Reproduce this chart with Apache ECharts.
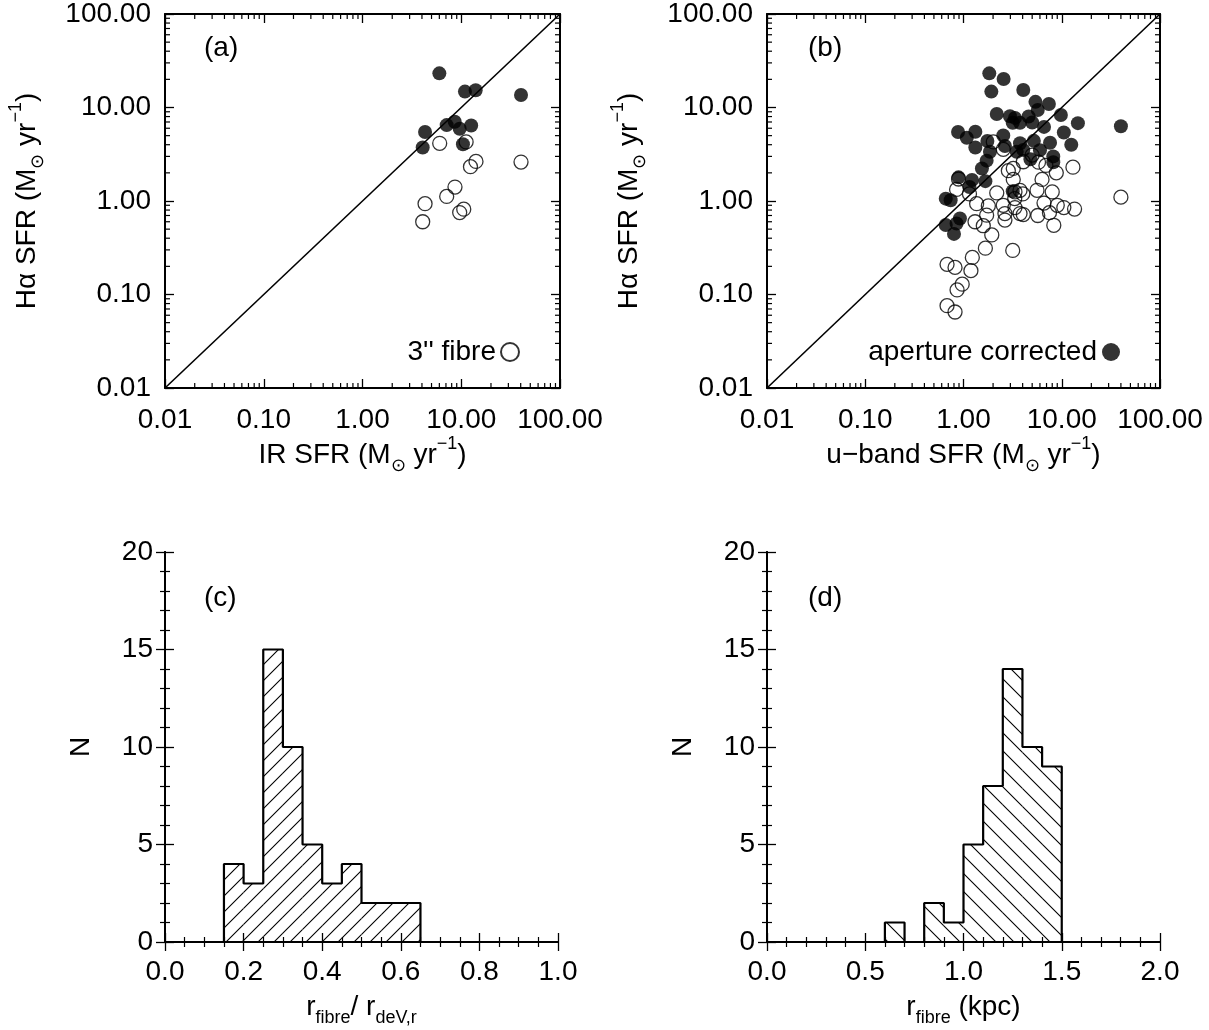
<!DOCTYPE html>
<html>
<head>
<meta charset="utf-8">
<script src="https://cdn.jsdelivr.net/npm/echarts@6/dist/echarts.min.js"></script>
<style>
  html, body { margin: 0; padding: 0; background: #fff; }
  #chart { width: 1209px; height: 1030px; }
</style>
</head>
<body>
<div id="chart"></div>
<script>
// (a) IR SFR vs Halpha SFR  [x, y]
const irCorrected = [
  [6.0, 23.2], [10.9, 14.8], [14.0, 15.3], [40.3, 13.6], [4.3, 5.47], [4.07, 3.73],
  [7.12, 6.48], [8.59, 7.03], [9.64, 5.92], [12.6, 6.42], [10.4, 4.04]
]
const irFibre = [
  [6.05, 4.14], [11.2, 4.28], [14.1, 2.65], [12.4, 2.33], [40.3, 2.61], [8.64, 1.41],
  [7.12, 1.12], [4.3, 0.936], [4.07, 0.60], [10.6, 0.817], [9.64, 0.752]
]

// (b) u-band SFR vs Halpha SFR  [x, y]
const uCorrected = [
  [1.83, 23.2], [2.56, 20.2], [1.92, 14.8], [4.06, 15.4], [2.18, 8.53], [2.97, 8.07],
  [3.34, 7.74], [3.76, 6.85], [3.17, 6.85], [0.88, 5.47], [1.08, 4.75], [1.32, 5.5],
  [2.54, 5.03], [1.75, 4.39], [1.32, 3.73], [2.64, 3.88], [3.76, 4.14], [4.06, 3.52],
  [3.48, 3.36], [1.86, 3.36], [1.72, 2.70], [1.54, 2.23], [0.89, 1.79], [1.22, 1.68],
  [1.67, 1.63], [1.15, 1.41], [3.17, 1.27], [0.66, 1.06], [0.74, 1.02], [0.92, 0.65],
  [0.85, 0.575], [0.66, 0.553], [0.80, 0.445],
  [7.4, 10.9], [5.7, 9.4], [9.8, 8.3], [5.0, 6.9], [6.6, 6.2], [10.5, 5.4], [5.2, 4.4],
  [7.6, 4.2], [14.6, 6.8], [12.5, 4.0], [40, 6.3], [8.2, 3.0], [6.0, 3.5], [4.6, 8.0],
  [5.4, 11.5], [4.8, 2.8], [8.2, 2.6]
]
const uFibre = [
  [2.01, 4.28], [2.54, 3.57], [4.06, 2.63], [3.21, 2.23], [2.86, 2.11], [3.21, 1.70],
  [0.89, 1.72], [0.85, 1.33], [1.15, 1.19], [2.18, 1.22], [3.34, 1.25], [3.76, 1.30],
  [4.01, 1.19], [3.32, 1.06], [1.36, 0.936], [1.79, 0.885], [1.72, 0.706], [2.54, 0.90],
  [2.64, 0.734], [2.64, 0.625], [3.34, 0.85], [3.76, 0.734], [4.06, 0.716], [1.31, 0.60],
  [1.59, 0.544], [1.94, 0.434], [1.67, 0.313], [1.23, 0.249], [3.17, 0.296],
  [0.68, 0.21], [0.82, 0.195], [0.97, 0.129], [0.86, 0.112], [1.19, 0.18], [0.68, 0.076],
  [0.82, 0.065],
  [5.0, 3.1], [5.8, 2.6], [6.9, 2.4], [8.8, 2.0], [13, 2.3], [6.3, 1.7], [5.6, 1.3],
  [8.0, 1.25], [6.6, 0.95], [10.5, 0.85], [13.5, 0.82], [8.3, 0.55], [40, 1.1], [9, 0.9],
  [7.5, 0.75], [5.7, 0.7]
]

// (c) r_fibre / r_deV,r histogram: lower bin edges and counts
const ratioEdges = [0.10, 0.15, 0.20, 0.25, 0.30, 0.35, 0.40, 0.45, 0.50, 0.55, 0.60, 0.65]
const ratioCounts = [0, 4, 3, 15, 10, 5, 3, 4, 2, 2, 2, 0]

// (d) r_fibre (kpc) histogram
const kpcEdges = [0.5, 0.6, 0.7, 0.8, 0.9, 1.0, 1.1, 1.2, 1.3, 1.4, 1.5]
const kpcCounts = [0, 1, 0, 2, 1, 5, 8, 14, 10, 9, 0]

const panelLabels = ['(a)', '(b)', '(c)', '(d)']

const FONT = 'Liberation Sans'
const FS = 28
const LOG_MIN = 0.01
const LOG_MAX = 100

const chart = echarts.init(document.getElementById('chart'), null, { renderer: 'canvas' })

function hatch(size, dir) {
  const c = document.createElement('canvas')
  c.width = c.height = size
  const ctx = c.getContext('2d')
  ctx.strokeStyle = '#000'
  ctx.lineWidth = 1.1
  ctx.beginPath()
  if (dir > 0) {
    ctx.moveTo(-2, size + 2); ctx.lineTo(size + 2, -2)
    ctx.moveTo(-2, 2); ctx.lineTo(2, -2)
    ctx.moveTo(size - 2, size + 2); ctx.lineTo(size + 2, size - 2)
  } else {
    ctx.moveTo(-2, -2); ctx.lineTo(size + 2, size + 2)
    ctx.moveTo(size - 2, -2); ctx.lineTo(size + 2, 2)
    ctx.moveTo(-2, size - 2); ctx.lineTo(2, size + 2)
  }
  ctx.stroke()
  return c
}

const rich = {
  sub: { fontFamily: FONT, fontSize: 18, verticalAlign: 'bottom', lineHeight: 18 },
  sup: { fontFamily: FONT, fontSize: 18, verticalAlign: 'top', lineHeight: 18 }
}
const nameStyle = { fontFamily: FONT, fontSize: FS, color: '#000', lineHeight: 40, rich: rich }
const labelStyle = { fontFamily: FONT, fontSize: FS, color: '#000' }
const frameLine = { show: true, lineStyle: { color: '#000', width: 2 } }

const grids = [
  { left: 165, top: 10, width: 395, height: 378 },
  { left: 767, top: 10, width: 393, height: 378 },
  { left: 165, top: 552, width: 393, height: 390 },
  { left: 767, top: 552, width: 393, height: 390 }
]

function logAxes(gi, xName, yName) {
  const base = {
    type: 'log', logBase: 10, min: LOG_MIN, max: LOG_MAX, gridIndex: gi,
    axisLine: frameLine, splitLine: { show: false },
    axisTick: { show: true, inside: true, length: 9, lineStyle: { color: '#000', width: 1.3 } }
  }
  const fmt = v => v.toFixed(2)
  return {
    x: [
      Object.assign({}, base, {
        position: 'bottom', name: xName, nameLocation: 'middle', nameGap: 45, nameTextStyle: nameStyle,
        axisLabel: Object.assign({ margin: 18, formatter: fmt, showMinLabel: true, showMaxLabel: true }, labelStyle)
      }),
      Object.assign({}, base, { position: 'top', axisLabel: { show: false } })
    ],
    y: [
      Object.assign({}, base, {
        position: 'left', name: yName, nameLocation: 'middle', nameRotate: 90, nameGap: 118, nameTextStyle: nameStyle,
        axisLabel: Object.assign({ margin: 14, formatter: fmt, showMinLabel: true, showMaxLabel: true }, labelStyle)
      }),
      Object.assign({}, base, { position: 'right', axisLabel: { show: false } })
    ]
  }
}

function linAxes(gi, xMax, xInterval, xMinorSplit, xName) {
  const tick = { show: true, inside: true, length: 9, lineStyle: { color: '#000', width: 1.3 } }
  const minor = n => ({ show: true, splitNumber: n, length: 5, lineStyle: { color: '#000', width: 1.2 } })
  const xBase = {
    type: 'value', min: 0, max: xMax, interval: xInterval, gridIndex: gi,
    axisLine: frameLine, splitLine: { show: false }, minorSplitLine: { show: false },
    axisTick: tick, minorTick: minor(xMinorSplit)
  }
  const yBase = {
    type: 'value', min: 0, max: 20, interval: 5, gridIndex: gi,
    axisLine: frameLine, splitLine: { show: false }, minorSplitLine: { show: false },
    axisTick: tick, minorTick: minor(5)
  }
  return {
    x: [
      Object.assign({}, xBase, {
        position: 'bottom', name: xName, nameLocation: 'middle', nameGap: 37, nameTextStyle: nameStyle,
        axisLabel: Object.assign({ margin: 16, formatter: v => v.toFixed(1), showMinLabel: true, showMaxLabel: true }, labelStyle)
      }),
      Object.assign({}, xBase, { position: 'top', axisLabel: { show: false } })
    ],
    y: [
      Object.assign({}, yBase, {
        position: 'left', name: 'N', nameLocation: 'middle', nameRotate: 90, nameGap: 64, nameTextStyle: nameStyle,
        axisLabel: Object.assign({ margin: 12, showMinLabel: true, showMaxLabel: true }, labelStyle)
      }),
      Object.assign({}, yBase, { position: 'right', axisLabel: { show: false } })
    ]
  }
}

const sfrY = 'H\u03b1 SFR (M{sub|\u2299} yr{sup|\u22121})'
const axA = logAxes(0, 'IR SFR (M{sub|\u2299} yr{sup|\u22121})', sfrY)
const axB = logAxes(1, 'u\u2212band SFR (M{sub|\u2299} yr{sup|\u22121})', sfrY)
const axC = linAxes(2, 1.0, 0.2, 4, 'r{sub|fibre}/ r{sub|deV,r}')
const axD = linAxes(3, 2.0, 0.5, 5, 'r{sub|fibre} (kpc)')

const xAxes = [].concat(axA.x, axB.x, axC.x, axD.x)
const yAxes = [].concat(axA.y, axB.y, axC.y, axD.y)

// minor log ticks (2..9 per decade) on all four sides
const minorLogTicks = []
for (let d = -2; d < 2; d++) for (let k = 2; k <= 9; k++) minorLogTicks.push(k * Math.pow(10, d))

function minorTickRender(params, api) {
  const v = api.value(0)
  const L = 5
  const l = api.coord([LOG_MIN, v]), r = api.coord([LOG_MAX, v])
  const b = api.coord([v, LOG_MIN]), t = api.coord([v, LOG_MAX])
  const st = { stroke: '#000', lineWidth: 1.2 }
  return {
    type: 'group',
    children: [
      { type: 'line', shape: { x1: l[0], y1: l[1], x2: l[0] + L, y2: l[1] }, style: st },
      { type: 'line', shape: { x1: r[0], y1: r[1], x2: r[0] - L, y2: r[1] }, style: st },
      { type: 'line', shape: { x1: b[0], y1: b[1], x2: b[0], y2: b[1] - L }, style: st },
      { type: 'line', shape: { x1: t[0], y1: t[1], x2: t[0], y2: t[1] + L }, style: st }
    ]
  }
}

function scatterPanel(gi, filled, open, filledName, openName) {
  const ax = { xAxisIndex: gi * 2, yAxisIndex: gi * 2 }
  return [
    Object.assign({
      type: 'line', name: 'one-to-one' + gi, data: [[LOG_MIN, LOG_MIN], [LOG_MAX, LOG_MAX]],
      symbol: 'none', silent: true, lineStyle: { color: '#000', width: 1.6 }, z: 1
    }, ax),
    Object.assign({
      type: 'scatter', name: openName, data: open, symbol: 'circle', symbolSize: 14,
      itemStyle: { color: 'rgba(0,0,0,0)', borderColor: '#000', borderWidth: 1.3 }, z: 3
    }, ax),
    Object.assign({
      type: 'scatter', name: filledName, data: filled, symbol: 'circle', symbolSize: 14,
      itemStyle: { color: '#000' }, z: 4
    }, ax),
    Object.assign({
      type: 'custom', name: 'minor' + gi, data: minorLogTicks.map(v => [v, v]),
      renderItem: minorTickRender, silent: true, z: 5
    }, ax)
  ]
}

function histPanel(gi, edges, counts, pattern) {
  const ax = { xAxisIndex: gi * 2, yAxisIndex: gi * 2 }
  const w = edges[1] - edges[0]
  const outline = [[edges[0], 0]]
  edges.forEach((e, i) => { outline.push([e, counts[i]], [e + w, counts[i]]) })
  outline.push([edges[edges.length - 1] + w, 0])
  return [
    Object.assign({
      type: 'custom', name: 'hist' + gi, data: edges.map((e, i) => [e, counts[i]]), silent: true,
      renderItem: function (params, api) {
        const x0 = api.value(0), h = api.value(1)
        if (!h) return
        const p0 = api.coord([x0, h]), p1 = api.coord([x0 + w, 0])
        return {
          type: 'rect',
          shape: { x: p0[0], y: p0[1], width: p1[0] - p0[0], height: p1[1] - p0[1] },
          style: { fill: { image: pattern, repeat: 'repeat' } }
        }
      }, z: 2
    }, ax),
    Object.assign({
      type: 'line', name: 'outline' + gi, data: outline, symbol: 'none', silent: true,
      lineStyle: { color: '#000', width: 2.2 }, z: 3
    }, ax)
  ]
}

const series = [].concat(
  scatterPanel(0, irCorrected, irFibre, 'a-corrected', "3'' fibre"),
  scatterPanel(1, uCorrected, uFibre, 'aperture corrected', 'b-fibre'),
  histPanel(2, ratioEdges, ratioCounts, hatch(16, 1)),
  histPanel(3, kpcEdges, kpcCounts, hatch(18, -1))
)

const legendBase = {
  orient: 'horizontal', align: 'right', icon: 'circle', itemWidth: 18, itemHeight: 18,
  selectedMode: false, textStyle: { fontFamily: FONT, fontSize: FS, color: '#000' }
}

const labelPos = [[204, 34], [808, 34], [204, 584], [808, 584]]

const option = {
  backgroundColor: '#fff',
  animation: false,
  grid: grids,
  xAxis: xAxes,
  yAxis: yAxes,
  legend: [
    Object.assign({}, legendBase, { data: ["3'' fibre"], right: 684, top: 333 }),
    Object.assign({}, legendBase, { data: ['aperture corrected'], right: 84, top: 333 })
  ],
  graphic: panelLabels.map((t, i) => ({
    type: 'text', left: labelPos[i][0], top: labelPos[i][1],
    style: { text: t, fontFamily: FONT, fontSize: FS, fill: '#000' }
  })),
  series: series
}

chart.setOption(option)
</script>
</body>
</html>
